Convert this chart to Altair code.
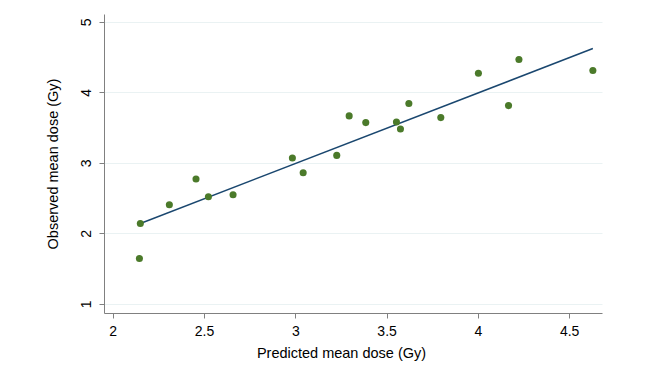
import altair as alt
import pandas as pd

predicted = [2.151, 2.146, 2.310, 2.456, 2.524, 2.659, 2.984, 3.043, 3.227, 3.295,
             3.386, 3.554, 3.576, 3.622, 3.797, 4.003, 4.168, 4.225, 4.630]
observed = [2.14, 1.642, 2.405, 2.770, 2.519, 2.547, 3.068, 2.859, 3.105, 3.665,
            3.570, 3.579, 3.480, 3.840, 3.641, 4.270, 3.811, 4.464, 4.308]
line_x = [2.151, 4.63]
line_y = [2.14, 4.62]

pts = pd.DataFrame({"x": predicted, "y": observed})
ln = pd.DataFrame({"x": line_x, "y": line_y})

font = "Liberation Sans"
xscale = alt.Scale(domain=[1.952, 4.68], nice=False, zero=False)
yscale = alt.Scale(domain=[0.87, 5.11], nice=False, zero=False)

xaxis = alt.Axis(values=[2, 2.5, 3, 3.5, 4, 4.5], format="~g", title="Predicted mean dose (Gy)",
                 grid=False, domainColor="#808080", tickColor="#808080", tickSize=5,
                 labelFont=font, labelFontSize=14, labelColor="#000000",
                 titleFont=font, titleFontSize=14.5, titleFontWeight="normal",
                 titleColor="#000000", labelPadding=6, titlePadding=8, titleX=237)
yaxis = alt.Axis(values=[1, 2, 3, 4, 5], format="~g", title="Observed mean dose (Gy)",
                 grid=True, gridColor="#EAF2F3", gridWidth=1,
                 domainColor="#808080", tickColor="#808080", tickSize=5,
                 labelFont=font, labelFontSize=14, labelColor="#000000", labelAngle=270,
                 labelAlign="center", labelBaseline="bottom", labelPadding=6,
                 titleFont=font, titleFontSize=14.5, titleFontWeight="normal",
                 titleColor="#000000", titlePadding=19)

points = alt.Chart(pts).mark_circle(size=50, color="#4B7A2A", opacity=1).encode(
    x=alt.X("x:Q", scale=xscale, axis=xaxis),
    y=alt.Y("y:Q", scale=yscale, axis=yaxis),
)
line = alt.Chart(ln).mark_line(color="#1A476F", strokeWidth=1.5).encode(
    x=alt.X("x:Q", scale=xscale),
    y=alt.Y("y:Q", scale=yscale),
)

chart = alt.layer(line, points).properties(
    width=498, height=299,
    autosize=alt.AutoSizeParams(type="none"),
    padding={"left": 96, "top": 6, "right": 30, "bottom": 50},
).configure_view(stroke=None)

chart.save("out.html", embed_options={"renderer": "svg", "actions": False})
